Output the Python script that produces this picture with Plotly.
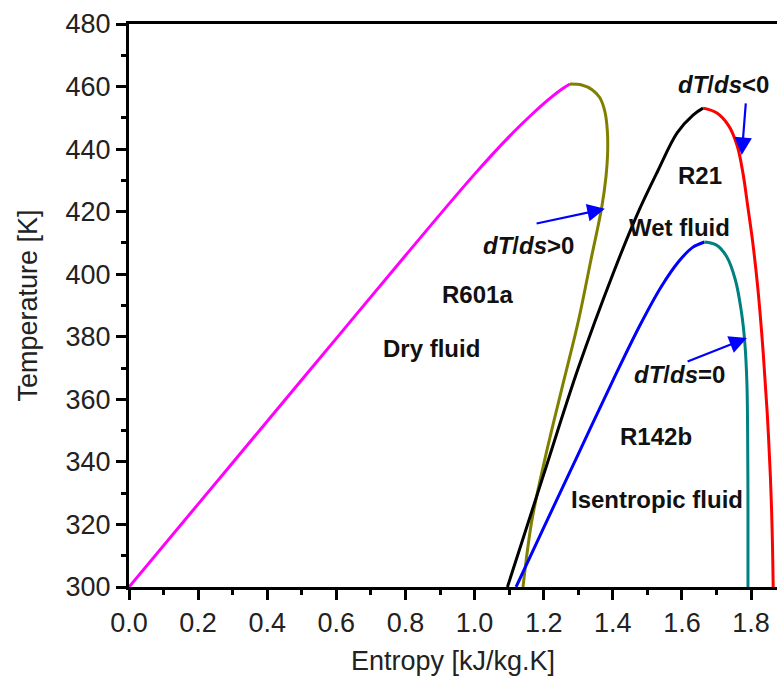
import plotly.graph_objects as go

# ---------------- data ----------------
r601a_liq_s = [0.0, 0.2, 0.4, 0.6, 0.8, 1.0, 1.1, 1.16, 1.21, 1.25, 1.276]
r601a_liq_T = [300, 326.5, 353, 379.5, 406, 432, 444, 450.5, 455.5, 459, 460.8]
r601a_vap_s = [1.276, 1.31, 1.34, 1.362, 1.377, 1.384, 1.385, 1.380, 1.368, 1.337, 1.30, 1.251, 1.203, 1.165, 1.14]
r601a_vap_T = [460.8, 460.5, 459.0, 456.5, 452.0, 446.0, 439.0, 431.0, 421.5, 404.8, 384.9, 362.8, 340.7, 320.8, 300.0]

r21_liq_s = [1.095, 1.2, 1.3, 1.4, 1.47, 1.53, 1.586, 1.632, 1.661]
r21_liq_T = [300, 336, 370, 400, 419, 433, 445.2, 450.9, 453.1]
r21_vap_s = [1.661, 1.70, 1.735, 1.76, 1.777, 1.79, 1.805, 1.82, 1.835, 1.847, 1.856, 1.861, 1.864]
r21_vap_T = [453.1, 451.6, 447.5, 441, 432, 422, 410, 395, 375, 355, 335, 318, 300]

r142b_liq_s = [1.12, 1.2, 1.3, 1.4, 1.48, 1.54, 1.59, 1.63, 1.665]
r142b_liq_T = [300, 319, 342.5, 366, 384, 396, 404, 408.5, 410.3]
r142b_vap_s = [1.665, 1.70, 1.73, 1.755, 1.772, 1.782, 1.788, 1.790, 1.791, 1.791]
r142b_vap_T = [410.3, 409.3, 405.5, 398, 388, 378, 365, 350, 325, 300]

x_tick_vals = [0.0, 0.2, 0.4, 0.6, 0.8, 1.0, 1.2, 1.4, 1.6, 1.8]
y_tick_vals = [300, 320, 340, 360, 380, 400, 420, 440, 460, 480]

labels = [
    ("<b>R601a</b>", 1.007, 393.4),
    ("<b>Dry fluid</b>", 0.874, 376.4),
    ("<b><i>dT</i>/<i>ds</i>&gt;0</b>", 1.155, 409.3),
    ("<b><i>dT</i>/<i>ds</i>&lt;0</b>", 1.719, 460.5),
    ("<b>R21</b>", 1.652, 431.7),
    ("<b>Wet fluid</b>", 1.594, 414.8),
    ("<b><i>dT</i>/<i>ds</i>=0</b>", 1.594, 367.8),
    ("<b>R142b</b>", 1.525, 348.0),
    ("<b>Isentropic fluid</b>", 1.528, 328.1),
]
# arrows: (tail_s, tail_T, head_s, head_T)
arrows = [
    (1.175, 416.1, 1.377, 420.9),
    (1.785, 455.1, 1.773, 438.1),
    (1.612, 371.9, 1.788, 379.6),
]

FONT = "Liberation Sans, Arial, sans-serif"

fig = go.Figure()

def add_curve(s, T, color):
    fig.add_trace(go.Scatter(x=s, y=T, mode="lines",
                             line=dict(color=color, width=3, shape="spline", smoothing=1.0),
                             showlegend=False, hoverinfo="skip"))

add_curve(r601a_liq_s, r601a_liq_T, "#FF00FF")
add_curve(r601a_vap_s, r601a_vap_T, "#808000")
add_curve(r21_liq_s, r21_liq_T, "#000000")
add_curve(r21_vap_s, r21_vap_T, "#FF0000")
add_curve(r142b_liq_s, r142b_liq_T, "#0000FF")
add_curve(r142b_vap_s, r142b_vap_T, "#008080")

for text, sx, ty in labels:
    fig.add_annotation(x=sx, y=ty, text=text, showarrow=False,
                       font=dict(family=FONT, size=24, color="#111111"))

for ts, tT, hs, hT in arrows:
    fig.add_annotation(x=hs, y=hT, ax=ts, ay=tT, xref="x", yref="y",
                       axref="x", ayref="y", text="", showarrow=True,
                       arrowhead=2, arrowsize=1.6, arrowwidth=2.2,
                       arrowcolor="#0000FF")

# y-axis title as a rotated annotation
fig.add_annotation(text="Temperature [K]", xref="paper", yref="paper",
                   x=-0.1574, y=0.5, xanchor="center", yanchor="middle",
                   textangle=-90, showarrow=False,
                   font=dict(family=FONT, size=27, color="#222222"))

fig.update_layout(
    width=777, height=684,
    margin=dict(l=129, r=0, t=24, b=97),
    paper_bgcolor="white", plot_bgcolor="white",
    font=dict(family=FONT, color="#222222"),
)
fig.update_xaxes(
    range=[0, 1.875], tickvals=x_tick_vals, tickformat=".1f",
    ticks="outside", ticklen=10, tickwidth=3, tickcolor="black",
    minor=dict(ticks="outside", ticklen=5, tickwidth=3, tickcolor="black", dtick=0.1, tick0=0),
    showline=True, linewidth=3, linecolor="black", mirror=True,
    showgrid=False, zeroline=False,
    tickfont=dict(size=27, color="#222222"),
    title=dict(text="Entropy [kJ/kg.K]", font=dict(size=27, color="#222222"), standoff=14),
)
fig.update_yaxes(
    range=[300, 480], tickvals=y_tick_vals,
    ticks="outside", ticklen=10, tickwidth=3, tickcolor="black",
    minor=dict(ticks="outside", ticklen=5, tickwidth=3, tickcolor="black", dtick=10, tick0=300),
    showline=True, linewidth=3, linecolor="black", mirror=False,
    showgrid=False, zeroline=False,
    tickfont=dict(size=27, color="#222222"),
)

fig.write_html("out.html")
